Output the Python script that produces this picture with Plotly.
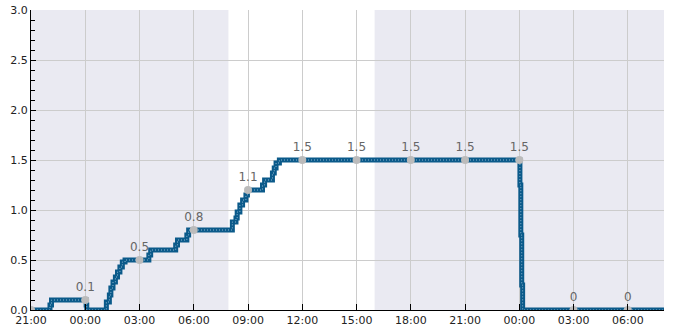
import plotly.graph_objects as go

# ---- data ----
times = [
    "2024-01-01 21:00", "2024-01-01 22:00", "2024-01-01 22:03", "2024-01-01 22:08",
    "2024-01-02 00:00", "2024-01-02 00:03", "2024-01-02 00:05", "2024-01-02 01:05",
    "2024-01-02 01:10", "2024-01-02 01:20", "2024-01-02 01:25", "2024-01-02 01:32",
    "2024-01-02 01:40", "2024-01-02 01:47", "2024-01-02 01:55", "2024-01-02 02:03",
    "2024-01-02 02:12", "2024-01-02 03:27", "2024-01-02 03:31", "2024-01-02 03:37",
    "2024-01-02 04:56", "2024-01-02 05:00", "2024-01-02 05:06", "2024-01-02 05:33",
    "2024-01-02 05:37", "2024-01-02 05:43", "2024-01-02 08:04", "2024-01-02 08:08",
    "2024-01-02 08:20", "2024-01-02 08:24", "2024-01-02 08:33", "2024-01-02 08:42",
    "2024-01-02 08:53", "2024-01-02 08:58", "2024-01-02 09:43", "2024-01-02 09:48",
    "2024-01-02 09:55", "2024-01-02 10:16", "2024-01-02 10:21", "2024-01-02 10:27",
    "2024-01-02 10:33", "2024-01-02 10:44", "2024-01-03 00:00", "2024-01-03 00:02",
    "2024-01-03 00:05", "2024-01-03 00:08", "2024-01-03 00:11", "2024-01-03 08:00",
]
values = [
    0, 0, 0.05, 0.1,
    0.1, 0.05, 0, 0,
    0.08, 0.15, 0.22, 0.28,
    0.33, 0.38, 0.43, 0.48,
    0.5, 0.5, 0.55, 0.6,
    0.6, 0.65, 0.7, 0.7,
    0.75, 0.8, 0.8, 0.88,
    0.92, 0.98, 1.05, 1.1,
    1.15, 1.2, 1.2, 1.25,
    1.3, 1.3, 1.37, 1.42,
    1.47, 1.5, 1.5, 1.25,
    0.75, 0.25, 0, 0,
]

mark_times = [
    "2024-01-01 21:00", "2024-01-02 00:00", "2024-01-02 03:00", "2024-01-02 06:00",
    "2024-01-02 09:00", "2024-01-02 12:00", "2024-01-02 15:00", "2024-01-02 18:00",
    "2024-01-02 21:00", "2024-01-03 00:00", "2024-01-03 03:00", "2024-01-03 06:00",
]
mark_values = [0, 0.1, 0.5, 0.8, 1.2, 1.5, 1.5, 1.5, 1.5, 1.5, 0, 0]
mark_labels = ["", "0.1", "0.5", "0.8", "1.1", "1.5", "1.5", "1.5", "1.5", "1.5", "0", "0"]

shade_start = ["2024-01-01 21:00", "2024-01-02 16:00"]
shade_end = ["2024-01-02 07:55", "2024-01-03 08:00"]

x_range = ["2024-01-01 21:00", "2024-01-03 08:00"]
y_range = [0, 3]

fig = go.Figure()

fig.add_trace(go.Scatter(
    x=times, y=values, mode="lines", line=dict(color="#0b5a8a", width=5, shape="hv"),
    hoverinfo="skip", showlegend=False,
))
fig.add_trace(go.Scatter(
    x=times, y=values, mode="lines", line=dict(color="#8fb6d2", width=1, shape="hv", dash="1px,2px"),
    hoverinfo="skip", showlegend=False,
))
fig.add_trace(go.Scatter(
    x=mark_times, y=mark_values, mode="markers+text", text=mark_labels,
    textposition="top center", textfont=dict(color="#666666", size=12, family="DejaVu Sans"),
    marker=dict(color="#bbbbbb", size=8), showlegend=False,
))

shapes = []
for s, e in zip(shade_start, shade_end):
    shapes.append(dict(type="rect", xref="x", yref="paper", x0=s, x1=e, y0=0, y1=1,
                       fillcolor="#eaeaf2", line=dict(width=0), layer="below"))

fig.update_layout(
    width=685, height=330,
    margin=dict(l=31, r=21, t=10, b=20),
    plot_bgcolor="white", paper_bgcolor="white",
    shapes=shapes,
    font=dict(family="DejaVu Sans", size=11, color="#222222"),
    xaxis=dict(
        type="date", range=x_range, tick0="2024-01-01 21:00", dtick=3 * 3600 * 1000,
        tickformat="%H:%M", showgrid=True, gridcolor="#cccccc", gridwidth=1,
        showline=True, linecolor="black", linewidth=1, ticks="inside", ticklen=6,
        tickcolor="black", zeroline=False, fixedrange=True, automargin=False,
    ),
    yaxis=dict(
        range=y_range, dtick=0.5, tickformat=".1f", showgrid=True, gridcolor="#cccccc",
        gridwidth=1, showline=True, linecolor="black", linewidth=1, ticks="inside",
        ticklen=5, tickcolor="black", zeroline=False, automargin=False,
        minor=dict(dtick=0.1, ticks="inside", ticklen=4, tickcolor="black", showgrid=False),
    ),
)

fig.write_html("out.html")
